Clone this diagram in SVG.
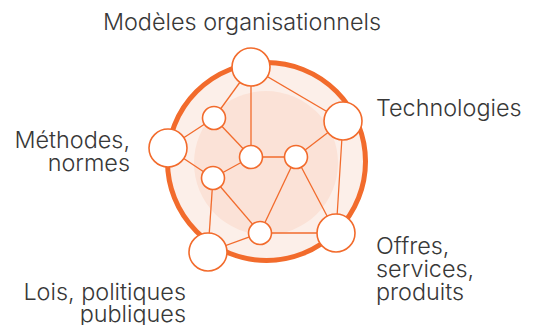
<svg xmlns="http://www.w3.org/2000/svg" width="537" height="325" viewBox="0 0 537 325">
<style>
.lbl{font-family:Inter,"Liberation Sans",sans-serif;font-size:23.4px;font-weight:300;fill:#383838}
.e{stroke:#f26b2c;stroke-width:1.3;fill:none}
.n{fill:#ffffff;stroke:#f26b2c;stroke-width:1.6}
</style>
<rect width="537" height="325" fill="#ffffff"/>
<g id="background">
<circle cx="266.5" cy="161.5" r="99" fill="#fcefe9" stroke="#f26b2c" stroke-width="5"/>
<circle cx="266" cy="163" r="72" fill="#fbe2d7"/>
</g>
<g id="connectors">
<line class="e" x1="251" y1="67" x2="214" y2="118"/>
<line class="e" x1="251" y1="67" x2="251" y2="157"/>
<line class="e" x1="251" y1="67" x2="343" y2="121"/>
<line class="e" x1="168" y1="148" x2="214" y2="118"/>
<line class="e" x1="168" y1="148" x2="213" y2="178"/>
<line class="e" x1="214" y1="118" x2="251" y2="157"/>
<line class="e" x1="251" y1="157" x2="213" y2="178"/>
<line class="e" x1="251" y1="157" x2="296" y2="157"/>
<line class="e" x1="296" y1="157" x2="343" y2="121"/>
<line class="e" x1="343" y1="121" x2="336" y2="233"/>
<line class="e" x1="296" y1="157" x2="260" y2="233"/>
<line class="e" x1="296" y1="157" x2="336" y2="233"/>
<line class="e" x1="213" y1="178" x2="208" y2="252"/>
<line class="e" x1="213" y1="178" x2="260" y2="233"/>
<line class="e" x1="260" y1="233" x2="208" y2="252"/>
<line class="e" x1="260" y1="233" x2="336" y2="233"/>
</g>
<g id="node-modeles"><circle class="n" cx="251" cy="67" r="19"/><text class="lbl" x="242" y="30" text-anchor="middle">Modèles organisationnels</text></g>
<g id="node-technologies"><circle class="n" cx="343" cy="121" r="19"/><text class="lbl" x="376" y="116">Technologies</text></g>
<g id="node-methodes"><circle class="n" cx="168" cy="148" r="19"/><text class="lbl" text-anchor="end"><tspan x="130" y="148">Méthodes,</tspan><tspan x="130" y="171">normes</tspan></text></g>
<g id="node-lois"><circle class="n" cx="208" cy="252" r="19"/><text class="lbl" text-anchor="end"><tspan x="186" y="300">Lois, politiques</tspan><tspan x="186" y="322">publiques</tspan></text></g>
<g id="node-offres"><circle class="n" cx="336" cy="233" r="19"/><text class="lbl"><tspan x="376" y="254">Offres,</tspan><tspan x="376" y="277">services,</tspan><tspan x="376" y="300">produits</tspan></text></g>
<g id="node-a"><circle class="n" cx="214" cy="118" r="11.5"/></g>
<g id="node-b"><circle class="n" cx="251" cy="157" r="11.5"/></g>
<g id="node-c"><circle class="n" cx="296" cy="157" r="11.5"/></g>
<g id="node-d"><circle class="n" cx="213" cy="178" r="11.5"/></g>
<g id="node-e"><circle class="n" cx="260" cy="233" r="11.5"/></g>
</svg>
